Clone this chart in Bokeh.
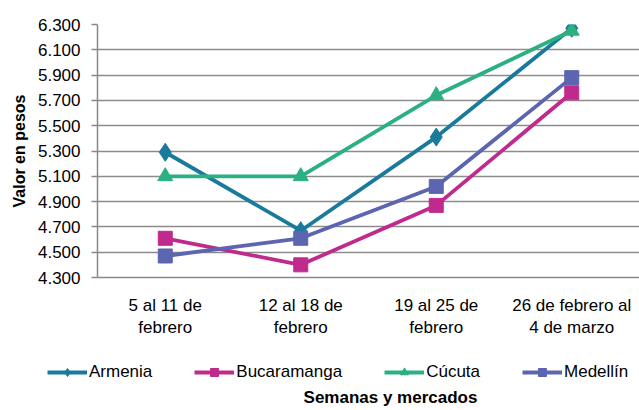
from bokeh.plotting import figure
from bokeh.layouts import column
from bokeh.models import FixedTicker, Legend, LegendItem, Label
from bokeh.embed import file_html
from bokeh.resources import INLINE

semanas = ["5 al 11 de\nfebrero", "12 al 18 de\nfebrero", "19 al 25 de\nfebrero", "26 de febrero al\n4 de marzo"]
armenia = [5290, 4670, 5410, 6270]
bucaramanga = [4610, 4400, 4870, 5760]
cucuta = [5100, 5100, 5740, 6250]
medellin = [4470, 4610, 5020, 5880]
y_ticks = [4300, 4500, 4700, 4900, 5100, 5300, 5500, 5700, 5900, 6100, 6300]
y_tick_labels = ["4.300", "4.500", "4.700", "4.900", "5.100", "5.300", "5.500", "5.700", "5.900", "6.100", "6.300"]

FONT = "Liberation Sans"

series = [
    ("Armenia", armenia, "#1a7a9c", "diamond", 18),
    ("Bucaramanga", bucaramanga, "#c02a8d", "square", 14),
    ("Cúcuta", cucuta, "#2bb082", "triangle", 15),
    ("Medellín", medellin, "#5b65b0", "square", 14),
]

# ---- main chart ----
p = figure(x_range=semanas, y_range=(4300, 6300), width=639, height=345,
           output_backend="svg", toolbar_location=None,
           min_border_left=97, min_border_top=24, min_border_right=0, min_border_bottom=68)
p.frame_align = False
p.outline_line_color = None
p.background_fill_color = "white"
p.border_fill_color = "white"

p.yaxis.ticker = FixedTicker(ticks=y_ticks)
p.yaxis.major_label_overrides = {t: l for t, l in zip(y_ticks, y_tick_labels)}
p.yaxis.axis_label = "Valor en pesos"
p.yaxis.axis_label_text_font = FONT
p.yaxis.axis_label_text_font_style = "bold"
p.yaxis.axis_label_text_font_size = "16px"
p.yaxis.axis_label_text_color = "black"
p.yaxis.axis_label_standoff = 7
p.yaxis.major_label_text_font = FONT
p.yaxis.major_label_text_font_size = "17px"
p.yaxis.major_label_text_color = "black"
p.yaxis.major_tick_out = 6
p.yaxis.major_tick_in = 0
p.yaxis.minor_tick_line_color = None
p.yaxis.axis_line_color = "#888888"
p.yaxis.axis_line_width = 1.5
p.yaxis.major_tick_line_color = "#888888"
p.yaxis.major_tick_line_width = 1.5
p.yaxis.major_label_standoff = 11

p.xaxis.major_label_text_font = FONT
p.xaxis.major_label_text_font_size = "17px"
p.xaxis.major_label_text_color = "black"
p.xaxis.major_tick_line_color = None
p.xaxis.axis_line_color = "#888888"
p.xaxis.axis_line_width = 1.5
p.xaxis.major_label_standoff = 12

p.xgrid.grid_line_color = None
p.ygrid.grid_line_color = "#8c8c8c"
p.ygrid.grid_line_width = 1.5

for name, vals, color, marker, size in series:
    p.line(semanas, vals, line_color=color, line_width=3.8)
    p.scatter(semanas, vals, marker=marker, size=size, fill_color=color, line_color=color)

# ---- legend + axis title strip ----
p2 = figure(x_range=semanas, y_range=(0, 1), width=639, height=61,
            output_backend="svg", toolbar_location=None,
            x_axis_location=None, y_axis_location=None,
            min_border_left=0, min_border_top=0, min_border_right=0, min_border_bottom=0)
p2.frame_align = False
p2.outline_line_color = None
p2.xgrid.visible = False
p2.ygrid.visible = False
p2.background_fill_color = "white"
p2.border_fill_color = "white"

items = []
for name, vals, color, marker, size in series:
    r1 = p2.line(semanas, vals, line_color=color, line_width=3.8)
    r2 = p2.scatter(semanas, vals, marker=marker, size=size, fill_color=color, line_color=color)
    items.append(LegendItem(label=name, renderers=[r1, r2]))

legend = Legend(items=items, orientation="horizontal", location=(47, 24),
                label_text_font=FONT, label_text_font_size="17px", label_text_color="black",
                glyph_width=40, glyph_height=20, label_standoff=2, spacing=42,
                border_line_color=None, background_fill_alpha=0, padding=0, margin=0)
p2.add_layout(legend, "center")

title = Label(x=390, y=9, x_units="screen", y_units="screen", text="Semanas y mercados",
              text_align="center", text_baseline="middle", text_font=FONT,
              text_font_size="17px", text_font_style="bold", text_color="black")
p2.add_layout(title)

open("out.html", "w").write(file_html(column(p, p2, spacing=0), INLINE))
